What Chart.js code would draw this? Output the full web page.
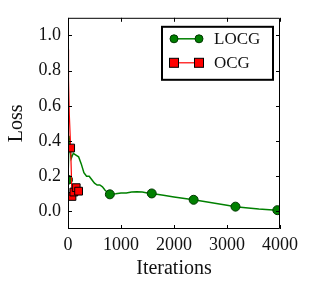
<!DOCTYPE html>
<html>
<head>
<meta charset="utf-8">
<script src="https://cdn.jsdelivr.net/npm/chart.js@4/dist/chart.umd.min.js"></script>
<style>
html,body{margin:0;padding:0;background:#fff;}
#wrap{width:312px;height:291px;position:relative;}
</style>
</head>
<body>
<div id="wrap"><canvas id="c" width="312" height="291"></canvas></div>
<script>
// ---- data ----
const seriesNames = ['LOCG', 'OCG'];
const locgIter = [0, 20, 40, 60, 100, 150, 200, 250, 300, 350, 400, 450, 500, 550, 600, 650, 700, 790, 900, 1000, 1100, 1200, 1300, 1400, 1500, 1580, 1800, 2000, 2200, 2370, 2600, 2800, 3000, 3160, 3400, 3600, 3800, 3950];
const locgLoss = [0.18, 0.43, 0.35, 0.30, 0.33, 0.32, 0.31, 0.27, 0.22, 0.20, 0.20, 0.18, 0.16, 0.15, 0.15, 0.14, 0.12, 0.097, 0.100, 0.105, 0.105, 0.110, 0.112, 0.110, 0.105, 0.102, 0.092, 0.082, 0.073, 0.066, 0.055, 0.045, 0.035, 0.027, 0.019, 0.013, 0.009, 0.007];
const locgMarkedIter = [0, 790, 1580, 2370, 3160, 3950];
const ocgIter = [0, 10, 25, 50, 75, 110, 155, 200];
const ocgLoss = [0.92, 0.75, 0.55, 0.36, 0.085, 0.11, 0.135, 0.115];
const ocgMarkedIter = [50, 75, 110, 155, 200];
const xTicks = [0, 1000, 2000, 3000, 4000];
const yTicks = [0.0, 0.2, 0.4, 0.6, 0.8, 1.0];
const xTitle = 'Iterations';
const yTitle = 'Loss';

const FONT = "'Liberation Serif', 'Times New Roman', serif";
const GREEN = '#008000';
const RED = '#ff0000';
const TEXT = '#111';

function pts(xs, ys) { return xs.map((x, i) => ({x: x, y: ys[i]})); }
function marker(xs, marked, r) {
  return ctx => {
    const d = ctx.raw;
    return d && marked.indexOf(d.x) >= 0 ? r : 0;
  };
}

const frameTicks = {
  id: 'frameTicks',
  afterDatasetsDraw(chart) {
    const {ctx, chartArea: a, scales} = chart;
    ctx.save();
    ctx.strokeStyle = '#000';
    ctx.lineWidth = 1;
    ctx.beginPath();
    ctx.rect(a.left + 0.5, a.top + 0.5, a.right - a.left - 1, a.bottom - a.top - 1);
    ctx.stroke();
    const L = 4;
    ctx.beginPath();
    scales.x.ticks.forEach(t => {
      const px = Math.round(scales.x.getPixelForValue(t.value)) + 0.5;
      ctx.moveTo(px, a.bottom); ctx.lineTo(px, a.bottom - L);
      ctx.moveTo(px, a.top); ctx.lineTo(px, a.top + L);
    });
    scales.y.ticks.forEach(t => {
      const py = Math.round(scales.y.getPixelForValue(t.value)) + 0.5;
      ctx.moveTo(a.left, py); ctx.lineTo(a.left + L, py);
      ctx.moveTo(a.right, py); ctx.lineTo(a.right - L, py);
    });
    ctx.stroke();
    ctx.restore();
  }
};

const boxLegend = {
  id: 'boxLegend',
  afterDraw(chart) {
    const {ctx, chartArea: a} = chart;
    const bx = a.left + 94, by = a.top + 9, bw = 111, bh = 53;
    ctx.save();
    ctx.fillStyle = '#fff';
    ctx.fillRect(bx, by, bw, bh);
    ctx.strokeStyle = '#000';
    ctx.lineWidth = 2;
    ctx.strokeRect(bx, by, bw, bh);
    const rows = [chart.data.datasets[1], chart.data.datasets[0]];
    rows.forEach((ds, i) => {
      const y = by + 12 + i * 24;
      const x1 = bx + 12, x2 = bx + 37;
      ctx.strokeStyle = ds.borderColor;
      ctx.lineWidth = ds.borderWidth;
      ctx.beginPath(); ctx.moveTo(x1, y); ctx.lineTo(x2, y); ctx.stroke();
      [x1, x2].forEach(x => {
        ctx.fillStyle = ds.pointBackgroundColor;
        ctx.strokeStyle = '#000';
        ctx.lineWidth = 1;
        if (ds.pointStyle === 'rect') {
          ctx.fillRect(x - 4.5, y - 4.5, 9, 9);
          ctx.strokeRect(x - 4.5, y - 4.5, 9, 9);
        } else {
          ctx.beginPath(); ctx.arc(x, y, 4, 0, Math.PI * 2); ctx.fill();
          ctx.strokeStyle = '#003800'; ctx.stroke();
        }
      });
      ctx.fillStyle = TEXT;
      ctx.font = "17px " + FONT;
      ctx.textBaseline = 'middle';
      ctx.textAlign = 'left';
      ctx.fillText(ds.label, bx + 52, y + 1);
    });
    ctx.restore();
  }
};

new Chart(document.getElementById('c'), {
  type: 'scatter',
  data: {
    datasets: [
      {
        label: seriesNames[1],
        data: pts(ocgIter, ocgLoss),
        showLine: true,
        borderColor: RED,
        borderWidth: 1.2,
        pointStyle: 'rect',
        pointBackgroundColor: RED,
        pointBorderColor: '#000',
        pointBorderWidth: 1,
        pointRadius: marker(ocgIter, ocgMarkedIter, 5.5),
        pointHoverRadius: 0,
        tension: 0,
        order: 0
      },
      {
        label: seriesNames[0],
        data: pts(locgIter, locgLoss),
        showLine: true,
        borderColor: GREEN,
        borderWidth: 1.5,
        pointStyle: 'circle',
        pointBackgroundColor: GREEN,
        pointBorderColor: '#003800',
        pointBorderWidth: 1,
        pointRadius: marker(locgIter, locgMarkedIter, 4.5),
        pointHoverRadius: 0,
        tension: 0,
        order: 1
      }
    ]
  },
  options: {
    responsive: false,
    animation: false,
    events: [],
    layout: {padding: {left: 0, top: 10, right: 32, bottom: 0}},
    plugins: {legend: {display: false}, tooltip: {enabled: false}},
    scales: {
      x: {
        type: 'linear',
        min: 0, max: 4000,
        afterBuildTicks: s => { s.ticks = xTicks.map(v => ({value: v})); },
        afterFit: s => { s.height = 62; },
        grid: {display: false, drawTicks: false},
        border: {display: false},
        ticks: {color: TEXT, font: {family: FONT, size: 18}, padding: 5, maxRotation: 0,
                callback: v => String(v)},
        title: {display: true, text: xTitle, color: TEXT, font: {family: FONT, size: 20},
                padding: {top: 0, bottom: 10}}
      },
      y: {
        type: 'linear',
        min: -0.1, max: 1.1,
        afterBuildTicks: s => { s.ticks = yTicks.map(v => ({value: v})); },
        afterFit: s => { s.width = 68; },
        grid: {display: false, drawTicks: false},
        border: {display: false},
        ticks: {color: TEXT, font: {family: FONT, size: 18}, padding: 7,
                callback: v => Number(v).toFixed(1)},
        title: {display: true, text: yTitle, color: TEXT, font: {family: FONT, size: 20},
                padding: {top: 5, bottom: 0}}
      }
    }
  },
  plugins: [frameTicks, boxLegend]
});
</script>
</body>
</html>
